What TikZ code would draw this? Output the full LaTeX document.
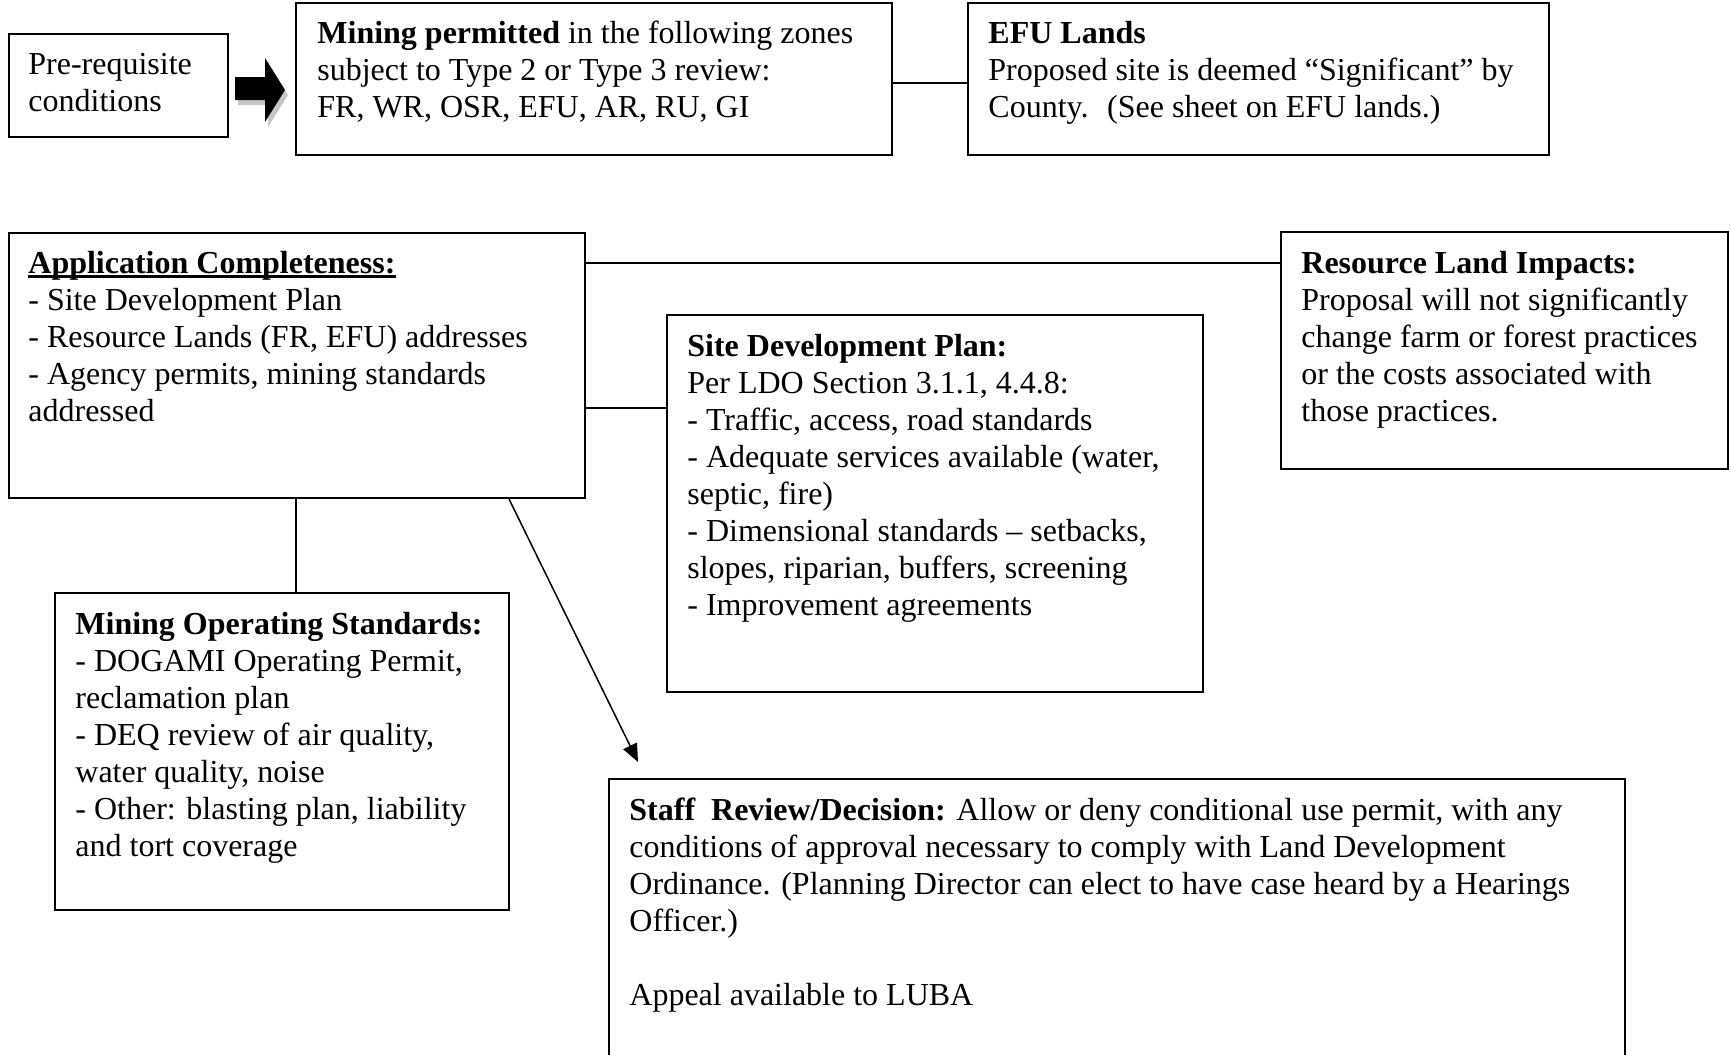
\documentclass[tikz,border=0pt]{standalone}
\usepackage{fontspec}
\setmainfont{Liberation Serif}
\usetikzlibrary{calc,fit,arrows.meta}
\newcommand{\myul}[1]{\setbox0\hbox{#1}\rlap{\rule[-2.4pt]{\wd0}{1.5pt}}\box0}
\begin{document}
\begin{tikzpicture}[x=0.5pt,y=-0.5pt,
  box/.style={draw, line width=1pt, inner sep=0pt},
  txt/.style={anchor=north west, inner sep=0pt, align=left, font=\fontsize{16}{18.5}\selectfont},
  conn/.style={line width=0.75pt}]
\clip (0,0) rectangle (1731,1055);
\fill[white] (0,0) rectangle (1731,1055);
% boxes
\node[box, fit={(9,34) (228,137)}] (pre) {};
\node[box, fit={(296,3) (892,155)}] (mine) {};
\node[box, fit={(968,3) (1549,155)}] (efu) {};
\node[box, fit={(9,233) (585,498)}] (app) {};
\node[box, fit={(1281,232) (1728,469)}] (res) {};
\node[box, fit={(667,315) (1203,692)}] (sdp) {};
\node[box, fit={(55,593) (509,910)}] (mos) {};
\node[box, fit={(609,779) (1625,1100)}] (staff) {};
% texts
\node[txt] (pretxt) at ($(pre.north west)+(20,15)$) {\strut Pre-requisite\\conditions};
\node[txt] (minetxt) at ($(mine.north west)+(22,15)$) {\strut\textbf{Mining permitted} in the following zones\\subject to Type 2 or Type 3 review:\\FR, WR, OSR, EFU, AR, RU, GI};
\node[txt] (efutxt) at ($(efu.north west)+(21,15)$) {\strut\textbf{EFU Lands}\\Proposed site is deemed “Significant” by\\County.~ (See sheet on EFU lands.)};
\node[txt] (apptxt) at ($(app.north west)+(20,15)$) {\strut\myul{\textbf{Application Completeness:}}\\- Site Development Plan\\- Resource Lands (FR, EFU) addresses\\- Agency permits, mining standards\\addressed};
\node[txt] (restxt) at ($(res.north west)+(21,16)$) {\strut\textbf{Resource Land Impacts:}\\Proposal will not significantly\\change farm or forest practices\\or the costs associated with\\those practices.};
\node[txt] (sdptxt) at ($(sdp.north west)+(21,16)$) {\strut\textbf{Site Development Plan:}\\Per LDO Section 3.1.1, 4.4.8:\\- Traffic, access, road standards\\- Adequate services available (water,\\septic, fire)\\- Dimensional standards – setbacks,\\slopes, riparian, buffers, screening\\- Improvement agreements};
\node[txt] (mostxt) at ($(mos.north west)+(21,16)$) {\strut\textbf{Mining Operating Standards:}\\- DOGAMI Operating Permit,\\reclamation plan\\- DEQ review of air quality,\\water quality, noise\\- Other: blasting plan, liability\\and tort coverage};
\node[txt] (stafftxt) at ($(staff.north west)+(21,16)$) {\strut\textbf{Staff~ Review/Decision:} Allow or deny conditional use permit, with any\\conditions of approval necessary to comply with Land Development\\Ordinance. (Planning Director can elect to have case heard by a Hearings\\Officer.)\\[18.5pt]Appeal available to LUBA};
% block arrow
\fill[gray!45] (238,82) -- (268,82) -- (268,63) -- (288,95) -- (268,127) -- (268,105) -- (238,105) -- cycle;
\fill[black] (235,77) -- (265,77) -- (265,58) -- (285,90) -- (265,122) -- (265,100) -- (235,100) -- cycle;
% connectors
\draw[conn] (mine.east |- 0,83) -- (efu.west |- 0,83);
\draw[conn] (app.east |- 0,263) -- (res.west |- 0,263);
\draw[conn] (app.east |- 0,408) -- (sdp.west |- 0,408);
\draw[conn] (app.south -| 296,0) -- (mos.north -| 296,0);
\coordinate (tip) at (638,762);
\draw[conn, -{Triangle[length=9pt,width=7.5pt]}] (app.south -| 509,0) -- (tip);
\end{tikzpicture}
\end{document}
